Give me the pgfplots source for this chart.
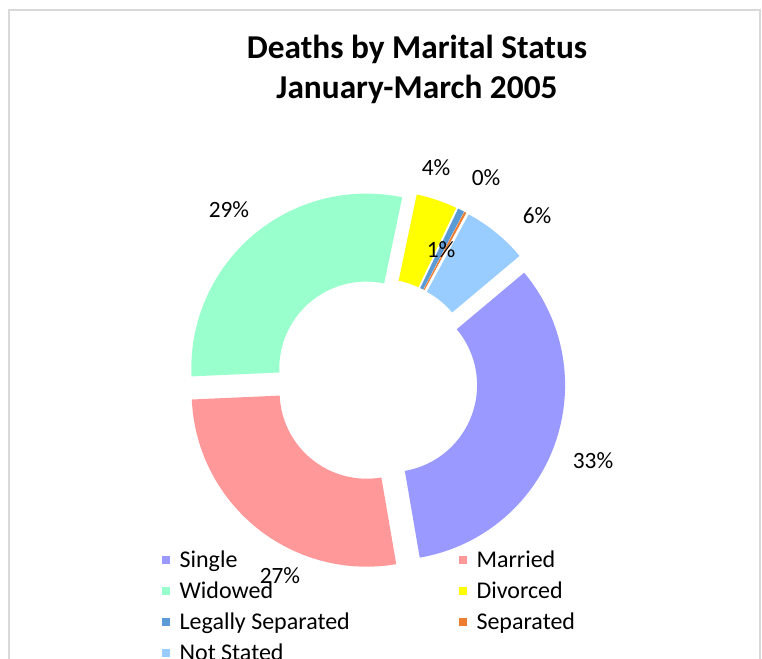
\documentclass[border=0pt]{standalone}
\usepackage{pgfplots}
\pgfplotsset{compat=1.18}
\usepackage{fontspec}
\setmainfont{Carlito}
\definecolor{cSingle}{HTML}{9999FF}
\definecolor{cMarried}{HTML}{FF9999}
\definecolor{cWidowed}{HTML}{99FFCC}
\definecolor{cDivorced}{HTML}{FFFF00}
\definecolor{cLegal}{HTML}{5B9BD5}
\definecolor{cSep}{HTML}{ED7D31}
\definecolor{cNS}{HTML}{99CCFF}
\definecolor{frame}{HTML}{D9D9D9}
% slice: colour, cumulative start (%), cumulative end (%)
\newcommand{\slice}[3]{%
  \addplot[fill=#1, draw=none, samples at={0,...,101}, variable=\x]
  ({376 + 15*sin(50+1.8*(#2+#3)) + ((\x<=50) ? 175 : 87)*sin((\x<=50) ? (50+3.6*#2 + 3.6*(#3-#2)*\x/50) : (50+3.6*#3 - 3.6*(#3-#2)*(\x-51)/50))},
   {380 - 15*cos(50+1.8*(#2+#3)) - ((\x<=50) ? 175 : 87)*cos((\x<=50) ? (50+3.6*#2 + 3.6*(#3-#2)*\x/50) : (50+3.6*#3 - 3.6*(#3-#2)*(\x-51)/50))});
}
\begin{document}
\begin{tikzpicture}
\begin{axis}[
  scale only axis, width=571.5pt, height=493.5pt,
  xmin=0, xmax=762, ymin=0, ymax=658, y dir=reverse,
  hide axis, clip=false,
  legend image code/.code={\fill[#1] (0pt,-3pt) rectangle (6pt,3pt);},
  legend style={at={(axis cs:162,548)}, anchor=north west, draw=none, fill=none,
    font=\fontsize{18}{21}\selectfont, legend columns=2, inner sep=0pt,
    row sep=5.2pt, legend cell align=left,
    /tikz/every odd column/.append style={column sep=5pt},
    /tikz/every even column/.append style={column sep=80pt}},
]
\draw[frame, line width=1pt] (axis cs:9,10) rectangle (axis cs:760,700);
% values (%): Single 33.4, Married 27.0, Widowed 29.0, Divorced 3.8,
% Legally Separated 0.6, Separated 0.2, Not Stated 6.0
\slice{cSingle}{0}{33.4}
\addlegendentry{Single}
\slice{cMarried}{33.4}{60.4}
\addlegendentry{Married}
\slice{cWidowed}{60.4}{89.4}
\addlegendentry{Widowed}
\slice{cDivorced}{89.4}{93.2}
\addlegendentry{Divorced}
\slice{cLegal}{93.2}{93.8}
\addlegendentry{Legally Separated}
\slice{cSep}{93.8}{94.0}
\addlegendentry{Separated}
\slice{cNS}{94.0}{100}
\addlegendentry{Not Stated}
\node[font=\fontsize{25}{30}\selectfont\bfseries, anchor=base] at (axis cs:417,58) {Deaths by Marital Status};
\node[font=\fontsize{25}{30}\selectfont\bfseries, anchor=base] at (axis cs:417,98) {January-March 2005};
\begin{scope}[every node/.style={font=\fontsize{17.5}{20}\selectfont, inner sep=0pt}]
\node at (axis cs:593,461) {33\%};
\node at (axis cs:280,576) {27\%};
\node at (axis cs:229,210) {29\%};
\node at (axis cs:436,168) {4\%};
\node at (axis cs:441,250) {1\%};
\node at (axis cs:486,178) {0\%};
\node at (axis cs:537,216) {6\%};
\end{scope}
\end{axis}
\pgfresetboundingbox
\path[use as bounding box] (current axis.south west) rectangle (current axis.north east);
\end{tikzpicture}
\end{document}
